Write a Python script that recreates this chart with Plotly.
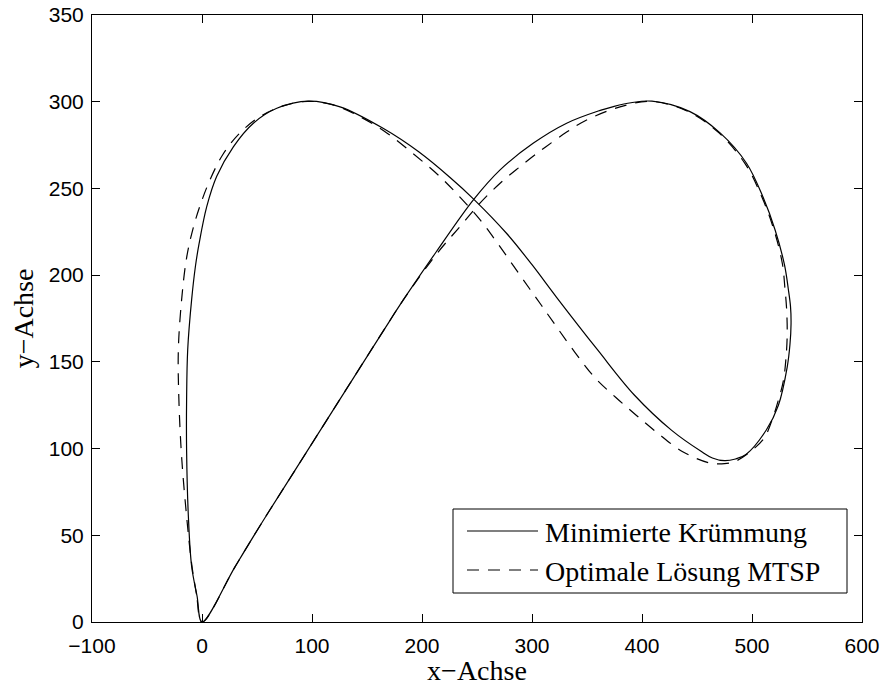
import plotly.graph_objects as go

# Series: Minimierte Krümmung (solid)
krum_x = [0, -4.5, -9.4, -12.4, -14, -14, -13, -9.4, -6, -2.7, 4.3, 13.4, 28.5, 46.7, 68, 97,
          125.5, 165, 197, 225.5, 246.7, 277, 300, 322, 359.5, 393, 427, 454, 464, 475, 485,
          494.5, 513, 524, 532, 534.5, 535.5, 535, 533, 529.5, 521, 510, 495, 471, 443.6, 409,
          390, 374, 362, 331.5, 301, 271, 246.7, 213, 183, 165, 84.5, 54, 30, 0]
krum_y = [0, 15, 32, 61, 99, 128, 157, 186, 205, 218, 239.5, 257, 274, 287.6, 296.2, 300.3,
          297, 284.5, 271.1, 256.3, 244, 224, 206, 187.5, 157, 130.9, 110.5, 98.3, 94.6, 93, 94,
          96.6, 110.7, 125, 147, 160, 172, 182, 192, 206, 226, 245, 264.5, 282, 294.3, 300.3,
          299.4, 297.2, 295, 287.6, 276, 260.7, 243.4, 213.5, 185.7, 168, 87.4, 56.8, 31.8, 0]

# Series: Optimale Lösung MTSP (dashed)
mtsp_x = [0, -5, -9.5, -14, -18.5, -21, -21.5, -18.5, -14, -8.5, -1.8, 7.3, 19.4, 34.5, 52.7,
          74, 96, 120, 143.6, 168, 192, 216, 234.5, 252.7, 268, 283, 298, 308.7, 322, 339, 357,
          376, 395, 413.7, 437, 461, 475, 486, 500, 511, 518, 524, 528.5, 531, 532, 531.5, 530,
          527.5, 520, 509, 494, 470, 443, 409, 380, 349.7, 331.5, 313, 304, 289, 271, 252.7,
          234.5, 213, 183, 165, 84.5, 54, 30, 0]
mtsp_y = [0, 16, 34, 61, 95, 128, 157, 186, 210, 226, 240, 255, 270, 282, 291.4,
          297.6, 300.2, 298, 291.4, 282, 270, 257, 245, 232, 219, 205.5, 192, 182.5, 170.5, 155.5, 141,
          129.6, 119.1, 109.2, 98.2, 91.8, 91.3, 93, 99, 106, 116, 128, 139, 153, 166, 180, 192,
          207, 226, 245, 264, 282, 294, 300.2, 297, 289.5, 282.5, 274.2, 270, 262.5, 253, 241.5,
          228, 212, 185.7, 168, 87.4, 56.8, 31.8, 0]

series_names = ["Minimierte Krümmung", "Optimale Lösung MTSP"]
x_ticks = [-100, 0, 100, 200, 300, 400, 500, 600]
y_ticks = [0, 50, 100, 150, 200, 250, 300, 350]

SERIF = "Liberation Serif, Times New Roman, serif"
SANS = "Liberation Sans, Arial, sans-serif"
DASH = "12px,9px"

fig = go.Figure()
fig.add_trace(go.Scatter(x=krum_x, y=krum_y, mode="lines", name=series_names[0],
                         line=dict(color="black", width=1.2, shape="spline", smoothing=1.0),
                         showlegend=False))
fig.add_trace(go.Scatter(x=mtsp_x, y=mtsp_y, mode="lines", name=series_names[1],
                         line=dict(color="black", width=1.2, dash=DASH,
                                   shape="spline", smoothing=1.0),
                         showlegend=False))

axis_common = dict(showline=True, linecolor="black", linewidth=1, mirror="ticks",
                   ticks="inside", ticklen=8, tickcolor="black", tickwidth=1,
                   showgrid=False, zeroline=False, ticklabeloverflow="allow",
                   tickfont=dict(family=SANS, size=21, color="black"))

fig.update_xaxes(range=[-100, 600], tickvals=x_ticks, ticklabelstandoff=5, **axis_common,
                 title=dict(text="x−Achse", font=dict(family=SERIF, size=28, color="black"),
                            standoff=23))
fig.update_yaxes(range=[0, 350], tickvals=y_ticks, ticklabelstandoff=3, **axis_common,
                 title=dict(text="y−Achse", font=dict(family=SERIF, size=28, color="black"),
                            standoff=6))

# Legend (drawn manually to match the sample-line length); pixel -> paper
L, R, B, T = 453, 847, 593, 509
W0, H0 = 92, 622
PW, PH = 770, 607
px = lambda v: (v - W0) / PW
py = lambda v: (H0 - v) / PH

fig.add_shape(type="rect", xref="paper", yref="paper", x0=px(L), x1=px(R), y0=py(B), y1=py(T),
              line=dict(color="black", width=1), fillcolor="white", layer="above")
for i, (yy, dash) in enumerate([(531, "solid"), (570, DASH)]):
    fig.add_shape(type="line", xref="paper", yref="paper", x0=px(467), x1=px(538),
                  y0=py(yy), y1=py(yy), line=dict(color="black", width=1.2, dash=dash),
                  layer="above")
    fig.add_annotation(xref="paper", yref="paper", x=px(543), y=py(yy + 1), xanchor="left",
                       yanchor="middle", text=series_names[i], showarrow=False,
                       font=dict(family=SERIF, size=28, color="black"))

fig.update_layout(width=882, height=686, margin=dict(l=92, r=20, t=15, b=64, autoexpand=False),
                  paper_bgcolor="white", plot_bgcolor="white", showlegend=False)

# remove the page's default body margin so the figure fills the window exactly
fig.write_html("out.html", config={"displayModeBar": False},
               post_script="document.body.style.margin='0';document.body.style.overflow='hidden';")
